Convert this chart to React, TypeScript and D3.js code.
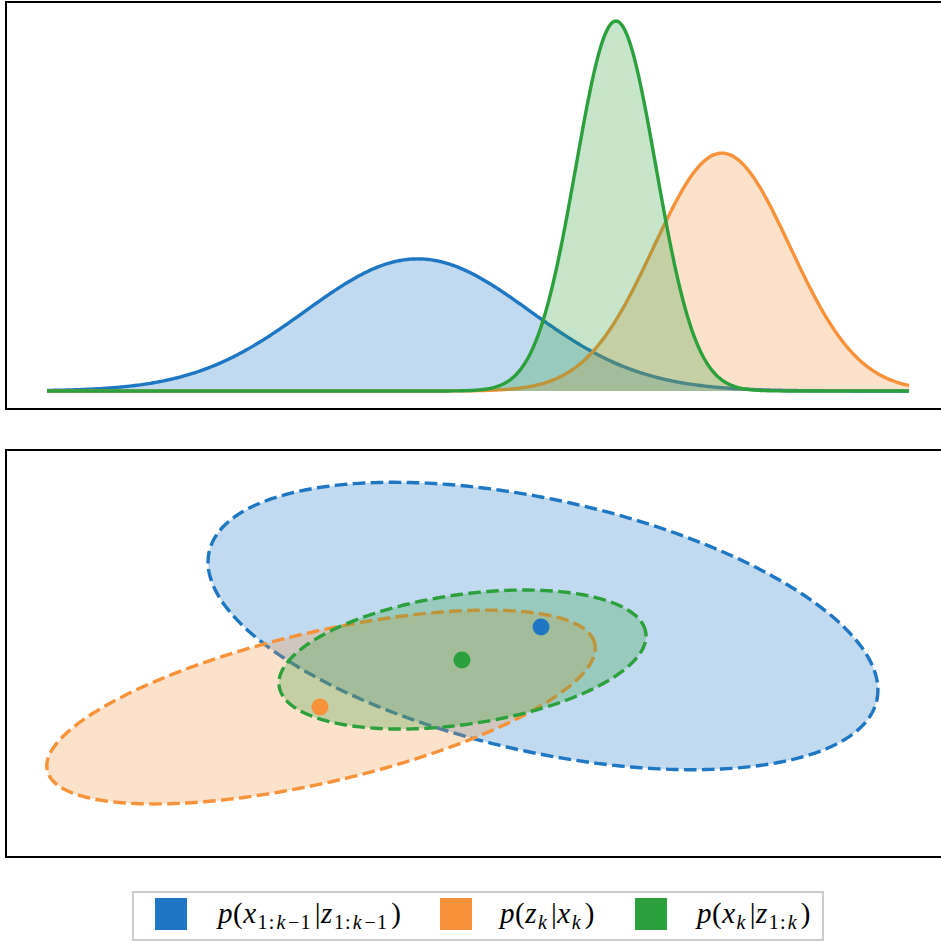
import React from "react";
import * as d3 from "d3";

// ---- Data ----
const seriesColors = ["#1f77c4", "#f5923a", "#2ca03c"];

// Top panel: 1-D densities (mean, std, peak height relative to max)
const curveMeans = [4.3, 7.83, 6.6];
const curveSigmas = [1.3, 0.79, 0.464];
const curvePeaks = [0.357, 0.643, 1.0];

// Bottom panel: 2-D covariance ellipses
const ellCx = [5.754, 3.179, 4.82];
const ellCy = [0.319, -0.621, -0.07];
const ellA = [3.967, 3.26, 2.149];
const ellB = [1.462, 0.871, 0.752];
const ellAngle = [-12.55, 13.08, 8.32];
const pointX = [5.731, 3.167, 4.814];
const pointY = [0.307, -0.621, -0.075];

type Seg = { t: string; it?: boolean; sub?: boolean };
const legendLabels: Seg[][] = [
  [
    { t: "p", it: true }, { t: "(" }, { t: "x", it: true },
    { t: "1:", sub: true }, { t: "k", it: true, sub: true }, { t: "−1", sub: true },
    { t: "|" }, { t: "z", it: true },
    { t: "1:", sub: true }, { t: "k", it: true, sub: true }, { t: "−1", sub: true },
    { t: ")" },
  ],
  [
    { t: "p", it: true }, { t: "(" }, { t: "z", it: true }, { t: "k", it: true, sub: true },
    { t: "|" }, { t: "x", it: true }, { t: "k", it: true, sub: true }, { t: ")" },
  ],
  [
    { t: "p", it: true }, { t: "(" }, { t: "x", it: true }, { t: "k", it: true, sub: true },
    { t: "|" }, { t: "z", it: true },
    { t: "1:", sub: true }, { t: "k", it: true, sub: true }, { t: ")" },
  ],
];

const W = 941;
const H = 942;
const FILL_OP = 0.27;

function mathTspans(segs: Seg[]) {
  let cur = 0;
  return segs.map((s, i) => {
    const target = s.sub ? 6 : 0;
    const dy = target - cur;
    cur = target;
    return (
      <tspan
        key={i}
        dy={dy}
        dx={s.t === "|" || s.t === ")" ? 3 : s.t === "−1" ? 1.5 : s.sub ? 1 : 0}
        fontStyle={s.it ? "italic" : "normal"}
        fontSize={s.sub ? 20 : 29}
        letterSpacing={s.sub ? 1.2 : 0.5}
      >
        {s.t}
      </tspan>
    );
  });
}

export default function App() {
  const x = d3.scaleLinear().domain([0, 10]).range([47, 909]);
  const yTop = d3.scaleLinear().domain([0, 1]).range([391, 21]);
  const yBot = d3.scaleLinear().domain([-2.361, 2.361]).range([857, 450]);

  const grid = d3.range(0, 10.0001, 0.02);
  const gauss = (i: number, v: number) =>
    curvePeaks[i] * Math.exp(-((v - curveMeans[i]) ** 2) / (2 * curveSigmas[i] ** 2));

  const area = d3
    .area<number[]>()
    .x((d) => x(d[0]))
    .y0(yTop(0))
    .y1((d) => yTop(d[1]));
  const line = d3
    .line<number[]>()
    .x((d) => x(d[0]))
    .y((d) => yTop(d[1]));

  const ellLine = d3
    .line<number[]>()
    .x((d) => x(d[0]))
    .y((d) => yBot(d[1]))
    .curve(d3.curveLinearClosed);

  const ellPts = (i: number) => {
    const phi = (ellAngle[i] * Math.PI) / 180;
    return d3.range(0, 360, 1).map((deg) => {
      const t = (deg * Math.PI) / 180;
      const ex = ellA[i] * Math.cos(t);
      const ey = ellB[i] * Math.sin(t);
      return [
        ellCx[i] + ex * Math.cos(phi) - ey * Math.sin(phi),
        ellCy[i] + ex * Math.sin(phi) + ey * Math.cos(phi),
      ];
    });
  };

  const legendPatchX = [155, 440, 635];
  const legendTextX = [218, 500, 697];

  return (
    <svg
      width={W}
      height={H}
      style={{ position: "absolute", left: 0, top: 0, background: "#fff" }}
    >
      {/* Top panel */}
      <g>
        {[0, 1, 2].map((i) => {
          const pts = grid.map((v) => [v, gauss(i, v)]);
          return (
            <g key={i}>
              <path d={area(pts) || ""} fill={seriesColors[i]} fillOpacity={FILL_OP} />
              <path d={line(pts) || ""} fill="none" stroke={seriesColors[i]} strokeWidth={3.4} />
            </g>
          );
        })}
        <rect x={6} y={2} width={1000} height={407} fill="none" stroke="#000" strokeWidth={2} />
      </g>

      {/* Bottom panel */}
      <g>
        {[0, 1, 2].map((i) => (
          <g key={i}>
            <path d={ellLine(ellPts(i)) || ""} fill={seriesColors[i]} fillOpacity={FILL_OP} stroke="none" />
            <path
              d={ellLine(ellPts(i)) || ""}
              fill="none"
              stroke={seriesColors[i]}
              strokeWidth={3.4}
              strokeDasharray="12.6 5.4"
            />
          </g>
        ))}
        {[0, 1, 2].map((i) => (
          <circle key={i} cx={x(pointX[i])} cy={yBot(pointY[i])} r={8.5} fill={seriesColors[i]} />
        ))}
        <rect x={6} y={450} width={1000} height={407} fill="none" stroke="#000" strokeWidth={2} />
      </g>

      {/* Legend */}
      <g>
        <rect x={133} y={892} width={690} height={48} fill="#fff" stroke="#cccccc" strokeWidth={2} />
        {[0, 1, 2].map((i) => (
          <g key={i}>
            <rect x={legendPatchX[i]} y={898} width={32} height={32} fill={seriesColors[i]} />
            <text x={legendTextX[i]} y={923} fontFamily="'Liberation Serif', 'DejaVu Serif', serif" fill="#000">
              {mathTspans(legendLabels[i])}
            </text>
          </g>
        ))}
      </g>
    </svg>
  );
}
